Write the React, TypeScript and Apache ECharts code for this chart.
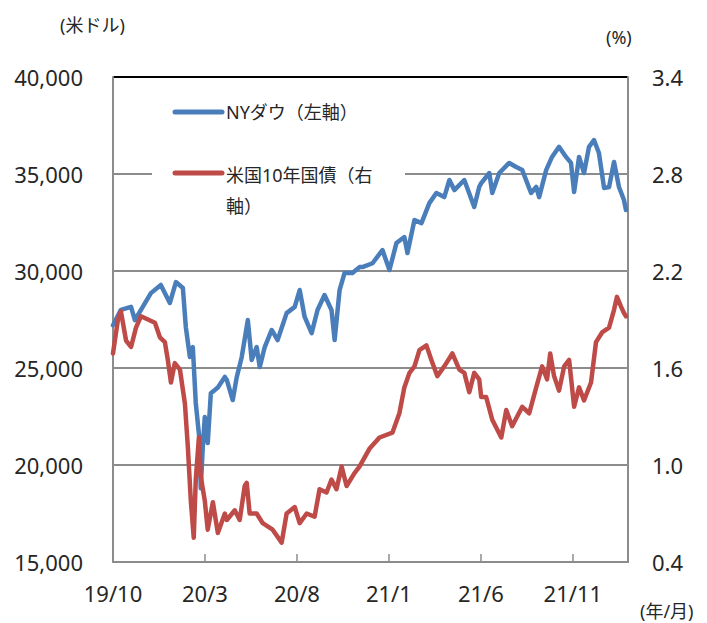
import React, { useEffect, useRef } from "react";
import * as echarts from "echarts";

// x positions are months elapsed since 2019/10
const xTickLabels = ["19/10", "20/3", "20/8", "21/1", "21/6", "21/11"];

const dowMonths = [
  0.0, 0.43, 0.98, 1.19, 1.52, 2.06, 2.6, 3.09, 3.42, 3.8, 3.96, 4.18, 4.34, 4.5, 4.72, 4.77, 4.88, 4.99,
  5.15, 5.32, 5.7, 6.08, 6.19, 6.51, 6.73, 7.0, 7.33, 7.54, 7.81, 7.98, 8.25, 8.63, 8.95, 9.44, 9.88,
  10.15, 10.42, 10.8, 11.12, 11.5, 11.88, 12.05, 12.32, 12.59, 13.02, 13.4, 13.56, 14.11, 14.65, 15.03,
  15.41, 15.84, 16.01, 16.39, 16.77, 17.2, 17.58, 18.01, 18.29, 18.56, 19.1, 19.64, 19.91, 20.02, 20.46,
  20.62, 21.0, 21.54, 21.92, 22.25, 22.73, 23.01, 23.17, 23.55, 23.87, 24.25, 24.63, 24.9, 25.07, 25.34,
  25.61, 25.88, 26.15, 26.42, 26.7, 26.97, 27.24, 27.51, 27.78, 27.89,
];
const dowValues = [
  27200, 28000, 28150, 27470, 28000, 28860, 29280, 28350, 29430, 29120, 27100, 25570, 26080, 23200, 21130,
  18800, 20900, 22470, 21130, 23700, 24000, 24540, 24380, 23350, 24540, 25570, 27470, 25410, 26080, 25050,
  26080, 26960, 26440, 27830, 28150, 29020, 27630, 26800, 27990, 28760, 27990, 26440, 29020, 29900, 29900,
  30200, 30200, 30400, 31080, 30050, 31440, 31750, 30930, 32630, 32470, 33500, 34020, 33810, 34690, 34170,
  34690, 33300, 34330, 34530, 35050, 34020, 35050, 35570, 35360, 35200, 34020, 34330, 33810, 35200, 35880,
  36400, 35880, 35570, 34070, 35880, 35050, 36400, 36750, 36080, 34280, 34330, 35620, 34330, 33660, 33140,
];

const yieldMonths = [
  0.0, 0.27, 0.43, 0.71, 0.98, 1.25, 1.52, 1.9, 2.28, 2.55, 2.82, 2.98, 3.15, 3.36, 3.64, 3.91, 4.07, 4.23,
  4.39, 4.5, 4.67, 4.77, 4.99, 5.15, 5.43, 5.7, 6.08, 6.19, 6.62, 6.89, 7.16, 7.27, 7.43, 7.81, 8.14, 8.68,
  9.17, 9.44, 9.88, 10.15, 10.53, 10.96, 11.23, 11.61, 11.88, 12.15, 12.43, 12.7, 13.13, 13.4, 13.94,
  14.49, 15.19, 15.57, 15.84, 16.12, 16.39, 16.66, 17.04, 17.31, 17.63, 18.01, 18.45, 18.83, 19.1, 19.37,
  19.64, 19.91, 20.02, 20.29, 20.62, 21.11, 21.38, 21.7, 22.25, 22.63, 23.01, 23.33, 23.6, 23.77, 23.98,
  24.25, 24.53, 24.8, 25.07, 25.34, 25.61, 25.99, 26.26, 26.59, 26.97, 27.24, 27.4, 27.62, 27.78, 27.89,
];
const yieldValues = [
  1.69, 1.9, 1.95, 1.77, 1.73, 1.85, 1.92, 1.9, 1.88, 1.79, 1.76, 1.65, 1.51, 1.63, 1.59, 1.38, 1.11, 0.78,
  0.55, 0.91, 1.17, 0.93, 0.78, 0.6, 0.77, 0.58, 0.7, 0.66, 0.72, 0.66, 0.87, 0.89, 0.7, 0.7, 0.64, 0.6,
  0.52, 0.7, 0.74, 0.64, 0.7, 0.68, 0.85, 0.83, 0.91, 0.85, 0.99, 0.87, 0.95, 0.99, 1.1, 1.17, 1.2, 1.32,
  1.48, 1.57, 1.61, 1.71, 1.74, 1.65, 1.55, 1.61, 1.69, 1.59, 1.57, 1.45, 1.57, 1.53, 1.42, 1.42, 1.28,
  1.17, 1.34, 1.24, 1.36, 1.32, 1.48, 1.61, 1.53, 1.69, 1.55, 1.46, 1.61, 1.65, 1.36, 1.48, 1.4, 1.51,
  1.76, 1.82, 1.85, 1.96, 2.04, 1.98, 1.94, 1.92,
];

const dowName = "NYダウ（左軸）";
const yieldName = "米国10年国債（右軸）";

const BLUE = "#4A7EBB";
const RED = "#BE4B48";
const GRID = "#8C8C8C";
const TEXT = "#262626";
const FONT = "'Noto Sans', 'Noto Sans CJK JP', sans-serif";

export default function App() {
  const ref = useRef<HTMLDivElement>(null);
  useEffect(() => {
    if (!ref.current) return;
    const chart = echarts.init(ref.current, null, { renderer: "svg" });
    const fmtThousands = (v: number) =>
      String(Math.round(v)).replace(/\B(?=(\d{3})+(?!\d))/g, ",");
    chart.setOption({
      animation: false,
      backgroundColor: "#fff",
      grid: { left: 113, right: 79, top: 77, bottom: 61, containLabel: false },
      xAxis: {
        type: "value",
        min: 0,
        max: 28,
        interval: 5,
        axisLine: { show: true, lineStyle: { color: GRID, width: 2 } },
        axisTick: { show: true, inside: true, length: 8, lineStyle: { color: GRID, width: 1.5 } },
        splitLine: { show: false },
        axisLabel: {
          margin: 20,
          color: TEXT,
          fontSize: 22,
          fontFamily: FONT,
          showMaxLabel: false,
          formatter: (v: number) => {
            const i = Math.round(v / 5);
            return Math.abs(v - i * 5) < 1e-6 && xTickLabels[i] ? xTickLabels[i] : "";
          },
        },
      },
      yAxis: [
        {
          type: "value",
          min: 15000,
          max: 40000,
          interval: 5000,
          position: "left",
          axisLine: { show: true, lineStyle: { color: GRID, width: 2 } },
          axisTick: { show: false },
          splitLine: {
            show: true,
            lineStyle: { color: [GRID, GRID, GRID, GRID, GRID, "#000000"], width: 2 },
          },
          axisLabel: {
            margin: 30,
            color: TEXT,
            fontSize: 22,
            fontFamily: FONT,
            formatter: fmtThousands,
          },
        },
        {
          type: "value",
          min: 0.4,
          max: 3.4,
          interval: 0.6,
          position: "right",
          axisLine: { show: true, lineStyle: { color: GRID, width: 2 } },
          axisTick: { show: false },
          splitLine: { show: false },
          axisLabel: {
            margin: 24,
            color: TEXT,
            fontSize: 22,
            fontFamily: FONT,
            formatter: (v: number) => v.toFixed(1),
          },
        },
      ],
      series: [
        {
          name: dowName,
          type: "line",
          yAxisIndex: 0,
          showSymbol: false,
          symbol: "none",
          lineStyle: { color: BLUE, width: 4.5, join: "round", cap: "round" },
          itemStyle: { color: BLUE },
          data: dowMonths.map((m, i) => [m, dowValues[i]]),
        },
        {
          name: yieldName,
          type: "line",
          yAxisIndex: 1,
          showSymbol: false,
          symbol: "none",
          lineStyle: { color: RED, width: 4.5, join: "round", cap: "round" },
          itemStyle: { color: RED },
          data: yieldMonths.map((m, i) => [m, yieldValues[i]]),
        },
      ],
      graphic: [
        { type: "rect", z: 50, shape: { x: 152, y: 90, width: 253, height: 132 }, style: { fill: "#fff" } },
        {
          type: "line",
          z: 51,
          shape: { x1: 175, y1: 112, x2: 222, y2: 112 },
          style: { stroke: BLUE, lineWidth: 5, lineCap: "round" },
        },
        {
          type: "text",
          z: 51,
          x: 226,
          y: 112,
          style: { text: dowName, fill: TEXT, font: `18px ${FONT}`, verticalAlign: "middle" },
        },
        {
          type: "line",
          z: 51,
          shape: { x1: 175, y1: 173, x2: 222, y2: 173 },
          style: { stroke: RED, lineWidth: 5, lineCap: "round" },
        },
        {
          type: "text",
          z: 51,
          x: 226,
          y: 175,
          style: { text: "米国10年国債（右", fill: TEXT, font: `18px ${FONT}`, verticalAlign: "middle" },
        },
        {
          type: "text",
          z: 51,
          x: 226,
          y: 206,
          style: { text: "軸）", fill: TEXT, font: `18px ${FONT}`, verticalAlign: "middle" },
        },
        {
          type: "text",
          x: 60,
          y: 25,
          style: { text: "(米ドル)", fill: TEXT, font: `18px ${FONT}`, verticalAlign: "middle" },
        },
        {
          type: "text",
          x: 606,
          y: 37,
          style: { text: "(%)", fill: TEXT, font: `18px ${FONT}`, verticalAlign: "middle" },
        },
        {
          type: "text",
          x: 640,
          y: 611,
          style: { text: "(年/月)", fill: TEXT, font: `18px ${FONT}`, verticalAlign: "middle" },
        },
      ],
    });
    return () => chart.dispose();
  }, []);
  return (
    <div
      ref={ref}
      style={{ position: "fixed", left: 0, top: 0, width: 707, height: 623, background: "#fff" }}
    />
  );
}
